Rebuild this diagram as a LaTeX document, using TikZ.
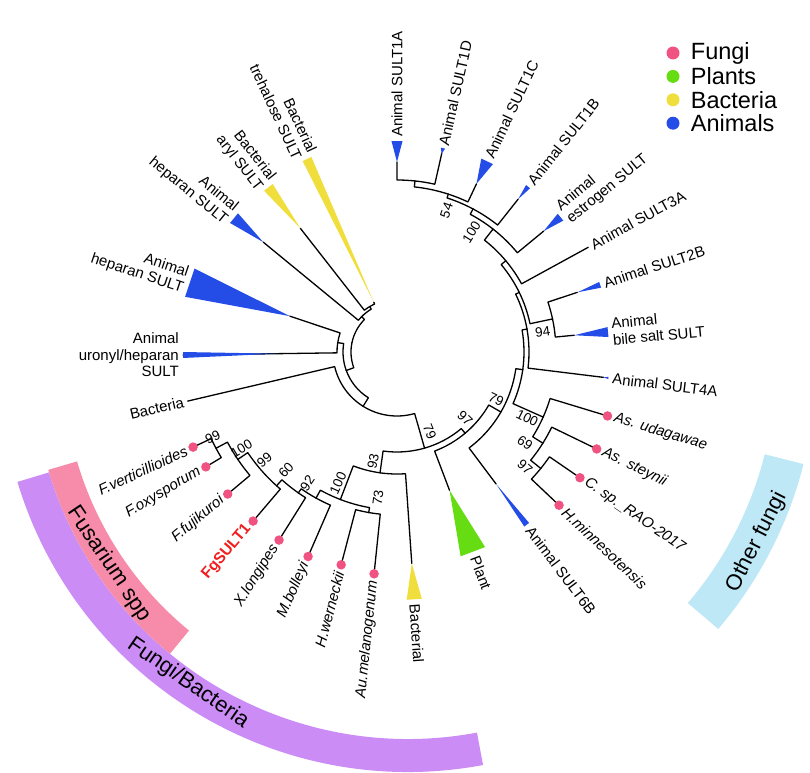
\documentclass[tikz,border=0pt]{standalone}
\usepackage{fontspec}
\setmainfont{Liberation Sans}
\usetikzlibrary{positioning}
\definecolor{fungipink}{RGB}{240,82,130}
\definecolor{plantgreen}{RGB}{102,221,18}
\definecolor{bactyellow}{RGB}{240,222,60}
\definecolor{animalblue}{RGB}{36,76,230}
\definecolor{bandpink}{RGB}{246,140,170}
\definecolor{bandpurple}{RGB}{203,140,246}
\definecolor{bandcyan}{RGB}{190,232,246}
\definecolor{sultred}{RGB}{240,30,30}
% one branch: arc at the parent radius, then out to the child
\newcommand\limb[4]{\draw[tree] (#1:#2pt) arc[start angle=#1, end angle=#3, radius=#2pt] -- (#3:#4pt);}
% collapsed clade drawn as a wedge
\newcommand\cladewedge[5]{\fill[#5] (#1:#2pt) -- (#1-#4:#3pt) -- (#1+#4:#3pt) -- cycle;}

\begin{document}
\begin{tikzpicture}[
    tree/.style={line width=1.3pt, line cap=round, line join=round},
    lab/.style={font=\fontsize{15}{16.5}\selectfont, inner sep=1pt},
    sp/.style={font=\fontsize{15}{16.5}\selectfont\itshape, inner sep=1pt},
    bs/.style={font=\fontsize{13.5}{13.5}\selectfont, inner sep=0pt},
    fdot/.style={circle, fill=fungipink, inner sep=0pt, minimum size=9.5pt},
    keytext/.style={font=\fontsize{23.5}{23.5}\selectfont, inner sep=0pt},
    bandtext/.style={font=\fontsize{22}{22}\selectfont, inner sep=0pt},
]
\useasboundingbox (-397pt,-420pt) rectangle (413pt,352pt);

% outer bands
\begin{scope}[shift={(11pt,-12pt)}]
\fill[bandpurple] (-163.2:375pt) arc[start angle=-163.2, end angle=-79.4, radius=375pt] -- (-79.4:408pt) arc[start angle=-79.4, end angle=-163.2, radius=408pt] -- cycle;
\fill[bandpink] (-163.6:345pt) arc[start angle=-163.6, end angle=-129.4, radius=345pt] -- (-129.4:375pt) arc[start angle=-129.4, end angle=-163.6, radius=375pt] -- cycle;
\fill[bandcyan] (-40.5:368pt) arc[start angle=-40.5, end angle=-14.2, radius=368pt] -- (-14.2:408pt) arc[start angle=-14.2, end angle=-40.5, radius=408pt] -- cycle;
\end{scope}
\node[bandtext, rotate=-56] (fusarium) at (-288pt,-212pt) {Fusarium spp};
\node[bandtext, rotate=-34.6] (fungibact) at (-209pt,-331pt) {Fungi/Bacteria};
\node[bandtext, rotate=63] (otherfungi) at (360pt,-190pt) {Other fungi};

% root and left group
\limb{168}{46}{200}{54}
\limb{168}{46}{135}{50}
\limb{135}{50}{140.6}{173}
\limb{135}{50}{121}{53}
\limb{121}{53}{128}{157}
\limb{121}{53}{115}{55}
\limb{200}{54}{238}{64}
\limb{200}{54}{171}{60}
\limb{171}{60}{161.5}{113}
\limb{171}{60}{180.8}{214}
\limb{238}{64}{286}{100}
\limb{238}{64}{193.2}{215}
\cladewedge{140.6}{173}{211}{1.7}{animalblue}
\cladewedge{128}{157}{209}{1.5}{bactyellow}
\cladewedge{115}{55}{213}{1.3}{bactyellow}
\cladewedge{161.5}{113}{219}{3.9}{animalblue}
\cladewedge{180.8}{120}{214}{0.8}{animalblue}
\node[lab, anchor=east, rotate=13.2] (tBact) at (193.2:218pt) {Bacteria};
\node[lab, anchor=east, align=right] (tUron) at (180.8:217pt) {Animal\\uronyl/heparan\\SULT};
\node[lab, anchor=east, align=right, rotate=-18.5] (tHepB) at (161.5:222pt) {Animal\\heparan SULT};
\node[lab, anchor=east, align=right, rotate=-39.4] (tHepS) at (140.6:214pt) {Animal\\heparan SULT};
\node[lab, anchor=east, align=right, rotate=-52] (tAryl) at (128:212pt) {Bacterial\\aryl SULT};
\node[lab, anchor=east, align=right, rotate=-65] (tTreh) at (115:216pt) {Bacterial\\trehalose SULT};

% backbone to the right
\limb{-74}{100}{-50}{106}
\limb{-74}{100}{-98}{122}
\limb{-50}{106}{-30}{120}
\limb{-50}{106}{-69.2}{148}
\limb{-30}{120}{-8}{127}
\limb{-30}{120}{-53.1}{165}
\limb{-8}{127}{10}{132}
\limb{-8}{127}{-24}{160}
\cladewedge{-69.2}{148}{214}{3.5}{plantgreen}
\cladewedge{-53.1}{165}{216}{0.8}{animalblue}
\node[lab, anchor=west, rotate=-69.2] (tPlant) at (-69.2:218pt) {Plant};
\node[lab, anchor=west, rotate=-53.1] (t6B) at (-53.1:219pt) {Animal SULT6B};

% animal clade
\limb{10}{132}{26}{136}
\limb{10}{132}{-7}{208}
\limb{26}{136}{40}{142}
\limb{26}{136}{12}{159}
\limb{12}{159}{18.3}{190}
\limb{12}{159}{5.4}{178}
\limb{40}{142}{52}{156}
\limb{40}{142}{28.7}{218}
\limb{52}{156}{62}{162}
\limb{52}{156}{39.5}{190}
\limb{62}{162}{72}{166}
\limb{62}{162}{51.6}{195}
\limb{72}{166}{84}{172}
\limb{72}{166}{64.7}{186}
\limb{84}{172}{90}{190}
\limb{84}{172}{77.3}{204}
\cladewedge{90}{190}{211}{1.5}{animalblue}
\cladewedge{77.3}{203}{209}{0.6}{animalblue}
\cladewedge{64.7}{186}{211}{1.75}{animalblue}
\cladewedge{51.6}{195}{211}{0.7}{animalblue}
\cladewedge{39.5}{190}{212}{1.2}{animalblue}
\cladewedge{18.3}{190}{214}{0.8}{animalblue}
\cladewedge{5.4}{178}{212}{1.35}{animalblue}
\cladewedge{-7}{208}{213}{0.3}{animalblue}
\node[lab, anchor=west, rotate=90] (t1A) at (90:214pt) {Animal SULT1A};
\node[lab, anchor=west, rotate=77.3] (t1D) at (77.3:211pt) {Animal SULT1D};
\node[lab, anchor=west, rotate=64.7] (t1C) at (64.7:214pt) {Animal SULT1C};
\node[lab, anchor=west, rotate=51.6] (t1B) at (51.6:214pt) {Animal SULT1B};
\node[lab, anchor=west, align=left, rotate=39.5] (tEst) at (39.5:215pt) {Animal\\estrogen SULT};
\node[lab, anchor=west, rotate=28.7] (t3A) at (28.7:221pt) {Animal SULT3A};
\node[lab, anchor=west, rotate=18.3] (t2B) at (18.3:217pt) {Animal SULT2B};
\node[lab, anchor=west, align=left, rotate=5.4] (tBile) at (5.4:215pt) {Animal\\bile salt SULT};
\node[lab, anchor=west, rotate=-7] (t4A) at (-7:216pt) {Animal SULT4A};

% other fungi
\limb{-24}{160}{-16.9}{215.5}
\limb{-24}{160}{-32}{172}
\limb{-32}{172}{-25.9}{217.5}
\limb{-32}{172}{-39}{185}
\limb{-39}{185}{-34.5}{217.5}
\limb{-39}{185}{-43.4}{218.5}
\node[fdot] (dAud) at (-16.9:220pt) {};
\node[fdot] (dAst) at (-25.9:222pt) {};
\node[fdot] (dCsp) at (-34.5:222pt) {};
\node[fdot] (dHmin) at (-43.4:223pt) {};
\node[sp, anchor=west, rotate=-16.9] (tAud) at (-16.9:226pt) {As. udagawae};
\node[sp, anchor=west, rotate=-25.9] (tAst) at (-25.9:228pt) {As. steynii};
\node[sp, anchor=west, rotate=-34.5] (tCsp) at (-34.5:228pt) {C. sp.\_RAO-2017};
\node[sp, anchor=west, rotate=-43.4] (tHmin) at (-43.4:229pt) {H.minnesotensis};

% fungi / bacteria clade
\limb{-98}{122}{-86}{212}
\limb{-98}{122}{-111}{158}
\limb{-111}{158}{-100}{163}
\limb{-111}{158}{-119}{167}
\limb{-100}{163}{-104.7}{215.5}
\limb{-100}{163}{-95.9}{218.5}
\limb{-119}{167}{-113.5}{218.5}
\limb{-119}{167}{-125}{172}
\limb{-125}{172}{-122.1}{217.5}
\limb{-125}{172}{-132}{180}
\limb{-132}{180}{-130.4}{217.5}
\limb{-132}{180}{-146}{192}
\limb{-146}{192}{-140}{216.5}
\limb{-146}{192}{-152}{205}
\limb{-152}{205}{-149}{218.5}
\limb{-152}{205}{-155}{220.5}
\cladewedge{-86}{212}{248}{1.75}{bactyellow}
\node[lab, anchor=west, rotate=-86] (tBactB) at (-86:252pt) {Bacterial};
\node[fdot] (dAum) at (-95.9:223pt) {};
\node[fdot] (dHwer) at (-104.7:220pt) {};
\node[fdot] (dMbol) at (-113.5:223pt) {};
\node[fdot] (dXlon) at (-122.1:222pt) {};
\node[fdot] (dFg) at (-130.4:222pt) {};
\node[fdot] (dFfuj) at (-140:221pt) {};
\node[fdot] (dFoxy) at (-149:223pt) {};
\node[fdot] (dFver) at (-155:225pt) {};
\node[sp, anchor=east, rotate=84.1] (tAum) at (-95.9:229pt) {Au.melanogenum};
\node[sp, anchor=east, rotate=75.3] (tHwer) at (-104.7:226pt) {H.werneckii};
\node[sp, anchor=east, rotate=66.5] (tMbol) at (-113.5:229pt) {M.bolleyi};
\node[sp, anchor=east, rotate=57.9] (tXlon) at (-122.1:228pt) {X.longipes};
\node[lab, anchor=east, rotate=49.6, text=sultred, font=\fontsize{15.5}{16.5}\selectfont\bfseries] (tFg) at (-130.4:228pt) {FgSULT1};
\node[sp, anchor=east, rotate=40] (tFfuj) at (-140:227pt) {F.fujikuroi};
\node[sp, anchor=east, rotate=31] (tFoxy) at (-149:229pt) {F.oxysporum};
\node[sp, anchor=east, rotate=25] (tFver) at (-155:231pt) {F.verticillioides};

% support values
\node[bs, rotate=70.7] (b54) at (70.7:150pt) {54};
\node[bs, rotate=58.1] (b100a) at (58.1:141pt) {100};
\node[bs, rotate=7.8] (b94) at (7.8:147pt) {94};
\node[bs, rotate=-25.7] (b79c) at (-25.7:110pt) {79};
\node[bs, rotate=-26.9] (b100b) at (-26.9:146pt) {100};
\node[bs, rotate=-35.4] (b69) at (-35.4:157pt) {69};
\node[bs, rotate=-41.9] (b97a) at (-41.9:172pt) {97};
\node[bs, rotate=-44.2] (b97b) at (-44.2:95pt) {97};
\node[bs, rotate=-67.6] (b79a) at (-67.6:86pt) {79};
\node[bs, rotate=77.7] (b93) at (-102.3:112pt) {93};
\node[bs, rotate=65.8] (b100c) at (-114.2:144pt) {100};
\node[bs, rotate=82.6] (b73) at (-97.4:147pt) {73};
\node[bs, rotate=55.7] (b92) at (-124.3:159pt) {92};
\node[bs, rotate=46.8] (b60) at (-133.2:162pt) {60};
\node[bs, rotate=39.2] (b99a) at (-140.8:171pt) {99};
\node[bs, rotate=31.8] (b100d) at (-148.2:183pt) {100};
\node[bs, rotate=24.8] (b99b) at (-155.2:203pt) {99};

% legend
\node[fdot, minimum size=13pt] (kFungi) at (276pt,299pt) {};
\node[fdot, minimum size=13pt, fill=plantgreen, below=10pt of kFungi] (kPlants) {};
\node[fdot, minimum size=13pt, fill=bactyellow, below=10pt of kPlants] (kBact) {};
\node[fdot, minimum size=13pt, fill=animalblue, below=10pt of kBact] (kAnimals) {};
\node[keytext, anchor=west, right=11pt of kFungi] (lFungi) {Fungi};
\node[keytext, anchor=west, right=11pt of kPlants] (lPlants) {Plants};
\node[keytext, anchor=west, right=11pt of kBact] (lBact) {Bacteria};
\node[keytext, anchor=west, right=11pt of kAnimals] (lAnimals) {Animals};
\end{tikzpicture}
\end{document}
